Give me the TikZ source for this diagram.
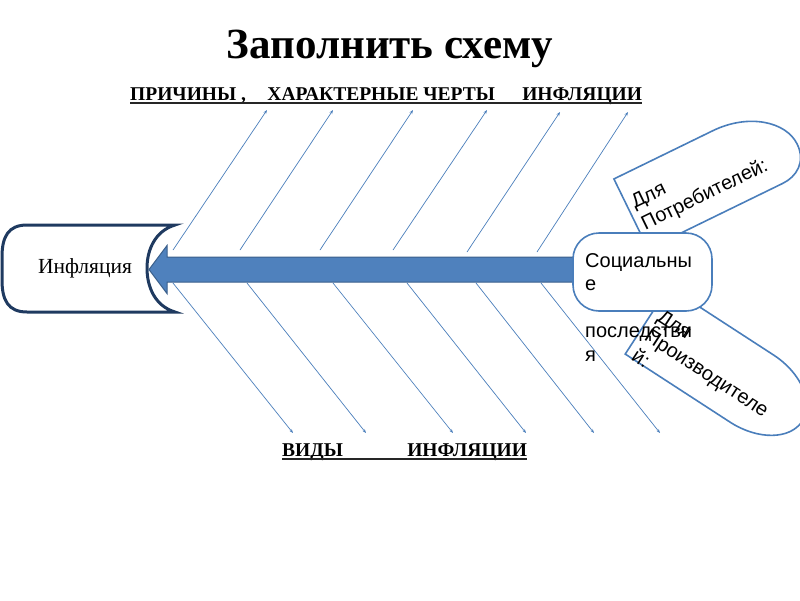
\documentclass[tikz,border=0pt]{standalone}
\usepackage{fontspec}
\setmainfont{Liberation Serif}
\newfontfamily\arialfont{Liberation Sans}
\usetikzlibrary{positioning,arrows.meta,calc}
\definecolor{ribblue}{HTML}{4A7EBB}
\definecolor{arrowblue}{HTML}{4F81BD}
\definecolor{arrowedge}{HTML}{3A5F8B}
\definecolor{scrollnavy}{HTML}{1F3A60}
\tikzstyle{rib}=[draw=ribblue, line width=0.7pt, -{Stealth[length=4pt,width=3pt]}]
\tikzstyle{petal}=[draw=ribblue, fill=white, line width=1.6pt]
\tikzstyle{headline}=[font=\bfseries\fontsize{19.5}{22}\selectfont, inner sep=0pt]
\tikzstyle{sanstext}=[font=\arialfont\fontsize{20}{23.5}\selectfont, align=left, inner sep=0pt]
\tikzstyle{ulinestyle}=[line width=1.2pt, black!85]

\begin{document}
\begin{tikzpicture}[x=1pt, y=-1pt]
\useasboundingbox (0,0) rectangle (800,600);

\node (TITLE) [anchor=base, inner sep=0pt, font=\bfseries\fontsize{43}{48}\selectfont] at (390,58) {Заполнить схему};

\node (CAUSES) [headline, anchor=base west] at (130,100) {ПРИЧИНЫ ,\hspace{1.1em}ХАРАКТЕРНЫЕ ЧЕРТЫ\hspace{1.4em}ИНФЛЯЦИИ};
 \draw[ulinestyle] ($(CAUSES.base west)+(0,3)$) -- ($(CAUSES.base east)+(0,3)$);
\node (KINDS) [headline, anchor=base west] at (282,456) {ВИДЫ\hspace{3.3em}ИНФЛЯЦИИ};
 \draw[ulinestyle] ($(KINDS.base west)+(0,3)$) -- ($(KINDS.base east)+(0,3)$);

% upper ribs
\coordinate (U1a) at (173,250); \coordinate (U1b) at (267,110);
\coordinate (U2a) at (240,250); \coordinate (U2b) at (333,110);
\coordinate (U3a) at (320,250); \coordinate (U3b) at (413,110);
\coordinate (U4a) at (393,250); \coordinate (U4b) at (487,110);
\coordinate (U5a) at (467,252); \coordinate (U5b) at (560,112);
\coordinate (U6a) at (537,252); \coordinate (U6b) at (628,112);
 \draw[rib] (U1a) -- (U1b);
 \draw[rib] (U2a) -- (U2b);
 \draw[rib] (U3a) -- (U3b);
 \draw[rib] (U4a) -- (U4b);
 \draw[rib] (U5a) -- (U5b);
 \draw[rib] (U6a) -- (U6b);
% lower ribs
\coordinate (L1a) at (173,283); \coordinate (L1b) at (293,433);
\coordinate (L2a) at (247,283); \coordinate (L2b) at (366,433);
\coordinate (L3a) at (333,283); \coordinate (L3b) at (453,433);
\coordinate (L4a) at (407,283); \coordinate (L4b) at (526,433);
\coordinate (L5a) at (476,283); \coordinate (L5b) at (594,433);
\coordinate (L6a) at (541,283); \coordinate (L6b) at (660,433);
 \draw[rib] (L1a) -- (L1b);
 \draw[rib] (L2a) -- (L2b);
 \draw[rib] (L3a) -- (L3b);
 \draw[rib] (L4a) -- (L4b);
 \draw[rib] (L5a) -- (L5b);
 \draw[rib] (L6a) -- (L6b);

% scroll
\draw[scrollnavy, line width=3pt, fill=white]
  (27,225) -- (175,225) .. controls (155,231) and (147,250) .. (147,268)
  .. controls (147,287) and (155,306) .. (175,312) -- (27,312)
  .. controls (8,312) and (2,300) .. (2,280) -- (2,257)
  .. controls (2,237) and (8,225) .. (27,225) -- cycle;
\node (INFL) [font=\fontsize{21.5}{24}\selectfont] at (85,268) {Инфляция};

% main arrow
\coordinate (TIP) at (149,269.5);
\coordinate (TAIL) at (600,269.5);
\path[fill=arrowblue, draw=arrowedge, line width=1pt]
  ($(TAIL)+(0,-12.5)$) -- ($(TIP)+(18,-12.5)$) -- ($(TIP)+(18,-24)$) -- (TIP)
  -- ($(TIP)+(18,24)$) -- ($(TIP)+(18,12.5)$) -- ($(TAIL)+(0,12.5)$) -- cycle;

% petals
\begin{scope}[shift={(631,214)}, rotate=26]
 \draw[petal] (0,-39) -- (110,-39) .. controls (150,-39) and (180,-15) .. (180,10)
   .. controls (180,30) and (165,39) .. (150,39) -- (0,39) -- cycle;
\end{scope}
\begin{scope}[shift={(647,320.5)}, rotate=-33]
 \draw[petal] (0,-40) -- (125,-40) .. controls (158,-40) and (185,-22) .. (185,0)
   .. controls (185,22) and (158,40) .. (125,40) -- (0,40) -- cycle;
\end{scope}

\node (SOC) [rectangle, rounded corners=26pt, draw=ribblue, fill=white, line width=1.6pt,
  minimum width=139pt, minimum height=78pt] at (642.5,272) {};
\node (SOCTXT) [sanstext, anchor=north west] at (585,253) {Социальны\\е\\[23.5pt]последстви\\я};

\node (CONS) [sanstext, rotate=26] at (700,185) {Для\\Потребителей:};
\node (PROD) [sanstext, rotate=-33] at (707,373) {Для\\Производителе\\й:};

\end{tikzpicture}
\end{document}
